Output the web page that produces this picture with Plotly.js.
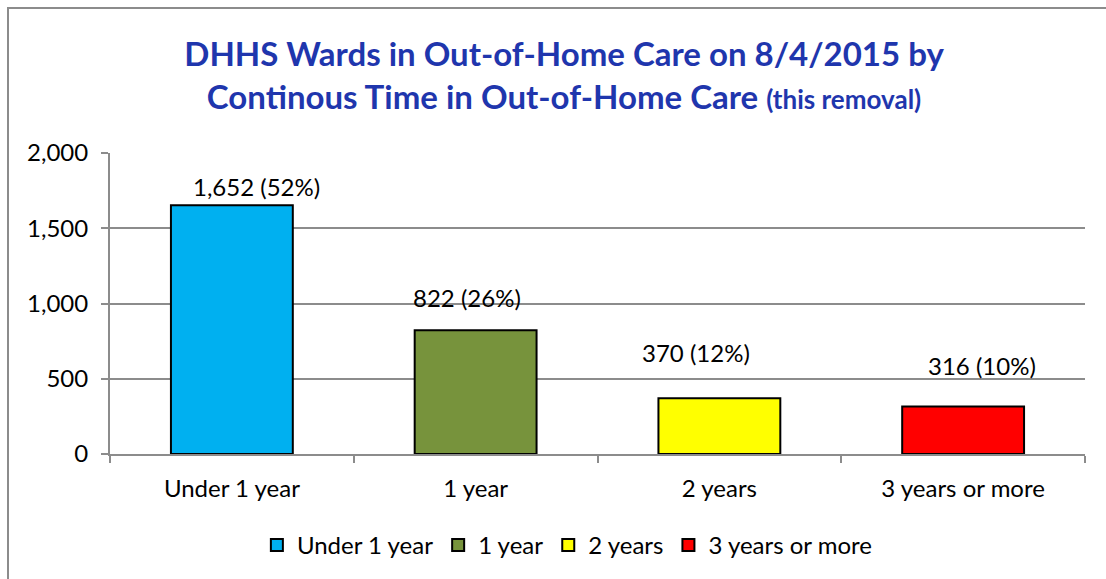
<!DOCTYPE html>
<html>
<head>
<meta charset="utf-8">
<script src="https://cdn.plot.ly/plotly-3.0.1.min.js"></script>
<style>
  body { margin: 0; background: #fff; }
  #wrap { position: relative; width: 1106px; height: 579px; }
  #chart { width: 1106px; height: 579px; }
  /* 바깥 테두리 (엑셀 차트 영역 테두리) */
  #frame { position: absolute; left: 7px; top: 7px; right: -10px; bottom: -10px;
           border-left: 2px solid #8c8c8c; border-top: 2px solid #8c8c8c; pointer-events: none; }
</style>
</head>
<body>
<div id="wrap">
  <div id="chart"></div>
  <div id="frame"></div>
</div>
<script>
// 카테고리 / 값 / 비율
const categories = ["Under 1 year", "1 year", "2 years", "3 years or more"];
const wardCounts = [1652, 822, 370, 316];
const wardShares = [52, 26, 12, 10];
const barColors = ["#00B0F0", "#77933C", "#FFFF00", "#FF0000"];

// 라벨 위치 보정 (엑셀에서 수동으로 옮긴 라벨)
const labelDx = [25, -9, -23, 19];
const labelDy = [19, 33, 46, 41];

const font = "Lato, 'Open Sans', sans-serif";

const traces = categories.map((cat, i) => ({
    x: [cat],
    y: [wardCounts[i]],
    type: 'bar',
    name: cat,
    width: 0.5,
    marker: { color: barColors[i], line: { color: '#000000', width: 2 } },
    hoverinfo: 'none'
}));

const annotations = categories.map((cat, i) => ({
    x: cat,
    y: wardCounts[i],
    xref: 'x',
    yref: 'y',
    text: wardCounts[i].toLocaleString('en-US') + ' (' + wardShares[i] + '%)',
    showarrow: false,
    xanchor: 'center',
    yanchor: 'middle',
    xshift: labelDx[i],
    yshift: labelDy[i],
    font: { family: font, size: 24, color: '#000' }
}));

const layout = {
    width: 1106,
    height: 579,
    margin: { l: 110, r: 21, t: 153, b: 125 },
    paper_bgcolor: '#fff',
    plot_bgcolor: '#fff',
    barmode: 'overlay',
    showlegend: true,
    title: {
        text: "DHHS Wards in Out-of-Home Care on 8/4/2015 by<br>Continous Time in Out-of-Home Care <span style='font-size:26px'>(this removal)</span>",
        font: { family: font, size: 33, color: '#1F36AD', weight: 'bold' },
        x: 0.51,
        xref: 'container',
        xanchor: 'center',
        y: 0.886,
        yref: 'container',
        yanchor: 'bottom'
    },
    xaxis: {
        type: 'category',
        categoryorder: 'array',
        categoryarray: categories,
        showline: true,
        linecolor: '#8c8c8c',
        linewidth: 2,
        ticks: 'outside',
        tickson: 'boundaries',
        ticklen: 7,
        tickwidth: 2,
        tickcolor: '#8c8c8c',
        showgrid: false,
        tickfont: { family: font, size: 24, color: '#000' },
        ticklabelstandoff: 12
    },
    yaxis: {
        range: [0, 2000],
        tickvals: [0, 500, 1000, 1500, 2000],
        ticktext: ['0', '500', '1,000', '1,500', '2,000'],
        showline: true,
        linecolor: '#8c8c8c',
        linewidth: 2,
        ticks: 'outside',
        ticklen: 7,
        tickwidth: 2,
        tickcolor: '#8c8c8c',
        showgrid: true,
        gridcolor: '#8c8c8c',
        gridwidth: 2,
        zeroline: false,
        tickfont: { family: font, size: 24, color: '#000' },
        ticklabelstandoff: 8
    },
    legend: {
        orientation: 'h',
        x: 0.513,
        xref: 'container',
        xanchor: 'center',
        y: 0.058,
        yref: 'container',
        yanchor: 'middle',
        font: { family: font, size: 24, color: '#000' },
        itemwidth: 30,
        tracegroupgap: 0
    },
    annotations: annotations
};

Plotly.newPlot('chart', traces, layout, { staticPlot: true, displayModeBar: false });
</script>
</body>
</html>
